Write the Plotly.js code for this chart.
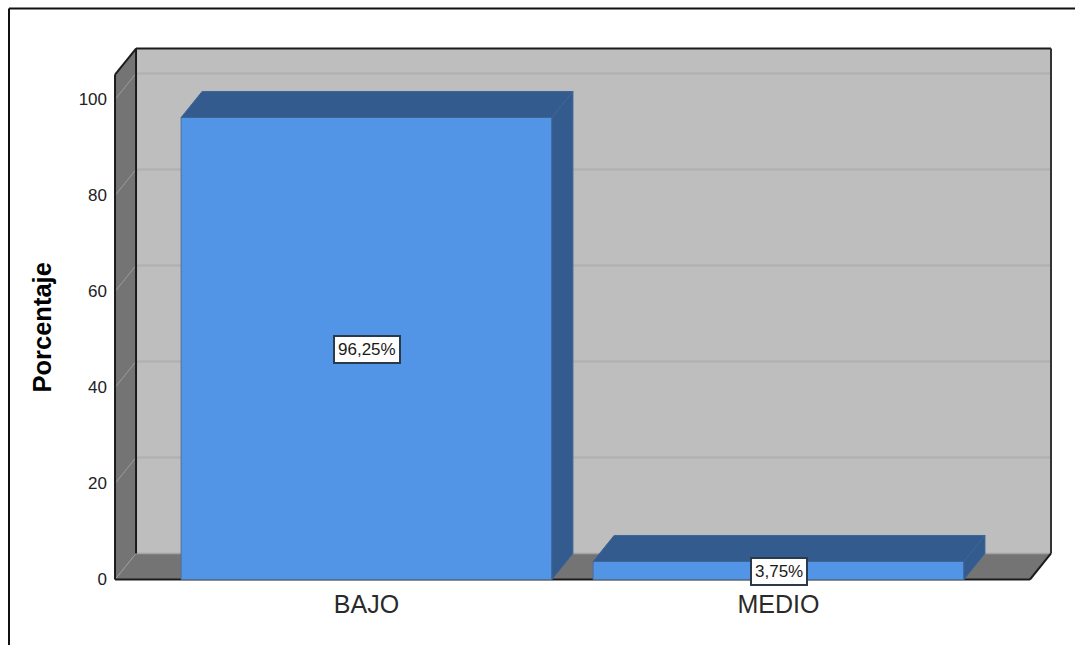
<!DOCTYPE html>
<html>
<head>
<meta charset="utf-8">
<script src="https://cdn.plot.ly/plotly-3.0.1.min.js"></script>
<style>html,body{margin:0;padding:0;background:#fff;overflow:hidden}#chart{width:1075px;height:645px}</style>
</head>
<body>
<div id="chart"></div>
<script>
var categories = ['BAJO', 'MEDIO'];
var categoryPositions = [0, 1];
var percentages = [96.25, 3.75];
var yTicks = [0, 20, 40, 60, 80, 100];
var yTitle = 'Porcentaje';

var barWidth = 0.9;
var depthX = 0.051;
var depthY = 5.42;
var wallLeft = -0.6104;
var wallRight = 1.6104;
var wallTop = 105.2;

var FONT = '"Liberation Sans", Arial, sans-serif';
var FRONT = '#5294e6', DARK = '#335b8e', WALL = '#bebebe', SIDE = '#747474', GRID = '#b2b2b2', EDGE = '#1c1c1c';

function poly(xs, ys, fill, lineColor, lineWidth) {
  var d = 'M' + xs.map(function (x, i) { return x + ',' + ys[i]; }).join('L') + 'Z';
  return {type: 'path', path: d, xref: 'x', yref: 'y', layer: 'below', fillcolor: fill,
          line: {color: lineColor || fill, width: lineWidth || 0}};
}
function seg(x0, y0, x1, y1, color, width) {
  return {type: 'line', xref: 'x', yref: 'y', layer: 'below', x0: x0, y0: y0, x1: x1, y1: y1,
          line: {color: color, width: width}};
}

var shapes = [];
// back wall, left wall, floor
shapes.push(poly([wallLeft + depthX, wallRight + depthX, wallRight + depthX, wallLeft + depthX],
                 [depthY, depthY, wallTop + depthY, wallTop + depthY], WALL));
shapes.push(poly([wallLeft, wallLeft + depthX, wallLeft + depthX, wallLeft],
                 [0, depthY, wallTop + depthY, wallTop], SIDE));
shapes.push(poly([wallLeft, wallRight, wallRight + depthX, wallLeft + depthX],
                 [0, 0, depthY, depthY], SIDE));
// gridlines that wrap the left wall and the back wall
yTicks.forEach(function (v) {
  if (v > 0) shapes.push(seg(wallLeft + depthX, v + depthY, wallRight + depthX, v + depthY, GRID, 2.5));
  shapes.push(seg(wallLeft, v, wallLeft + depthX, v + depthY, '#9c9c9c', 1));
});
// frame edges of the walls
shapes.push(seg(wallLeft + depthX, depthY, wallRight + depthX, depthY, '#a4a4a4', 1.5));
shapes.push(seg(wallLeft, 0, wallLeft, wallTop, EDGE, 2));
shapes.push(seg(wallLeft, wallTop, wallLeft + depthX, wallTop + depthY, EDGE, 2));
shapes.push(seg(wallLeft + depthX, depthY, wallLeft + depthX, wallTop + depthY, EDGE, 2));
shapes.push(seg(wallLeft + depthX, wallTop + depthY, wallRight + depthX, wallTop + depthY, EDGE, 2));
shapes.push(seg(wallRight + depthX, depthY, wallRight + depthX, wallTop + depthY, '#333333', 2));
shapes.push(seg(wallRight, 0, wallRight + depthX, depthY, EDGE, 2));
shapes.push(seg(wallLeft, 0, wallRight, 0, EDGE, 2));

// outer frame of the picture (paper coordinates of the plot area)
var plotL = 110, plotW = 946, plotT = 43, plotH = 539;
function paperX(px) { return (px - plotL) / plotW; }
function paperY(py) { return 1 - (py - plotT) / plotH; }
shapes.push({type: 'line', xref: 'paper', yref: 'paper', layer: 'below',
             x0: paperX(9), x1: paperX(1075), y0: paperY(8.5), y1: paperY(8.5), line: {color: '#111', width: 2}});
shapes.push({type: 'line', xref: 'paper', yref: 'paper', layer: 'below',
             x0: paperX(9), x1: paperX(9), y0: paperY(8.5), y1: paperY(645), line: {color: '#111', width: 2}});

var traces = [{
  type: 'bar', x: categoryPositions, y: percentages, width: barWidth,
  marker: {color: FRONT, line: {color: '#4d7099', width: 1}},
  hoverinfo: 'skip', showlegend: false
}];
categoryPositions.forEach(function (c, i) {
  var l = c - barWidth / 2, r = c + barWidth / 2, v = percentages[i];
  traces.push({type: 'scatter', mode: 'lines', fill: 'toself', fillcolor: DARK,
    x: [l, r, r + depthX, l + depthX, l], y: [v, v, v + depthY, v + depthY, v],
    line: {color: '#3e6596', width: 1}, hoverinfo: 'skip', showlegend: false});
  traces.push({type: 'scatter', mode: 'lines', fill: 'toself', fillcolor: DARK,
    x: [r, r + depthX, r + depthX, r, r], y: [0, depthY, v + depthY, v, 0],
    line: {color: '#3e6596', width: 1}, hoverinfo: 'skip', showlegend: false});
});

var annotations = categoryPositions.map(function (c, i) {
  return {x: c, y: percentages[i] / 2, xref: 'x', yref: 'y', showarrow: false, yshift: -1,
    text: percentages[i].toFixed(2).replace('.', ',') + '%',
    font: {family: FONT, size: 17, color: '#1a1a1a'},
    bgcolor: '#ffffff', bordercolor: '#2b3a4a', borderwidth: 2, borderpad: 3};
});
annotations.push({
  xref: 'paper', yref: 'paper', x: paperX(41), y: paperY(327.5), showarrow: false, textangle: -90,
  xanchor: 'center', yanchor: 'middle',
  text: '<b>' + yTitle + '</b>', font: {family: FONT, size: 25.5, color: '#000'}
});

var layout = {
  width: 1075, height: 645,
  margin: {l: plotL, r: 1075 - plotL - plotW, t: plotT, b: 645 - plotT - plotH, pad: 0},
  paper_bgcolor: '#ffffff', plot_bgcolor: 'rgba(0,0,0,0)',
  showlegend: false,
  xaxis: {
    range: [(plotL - 366.5) / 412, (plotL + plotW - 366.5) / 412],
    tickmode: 'array', tickvals: categoryPositions, ticktext: categories,
    showgrid: false, zeroline: false, showline: false, ticks: '', ticklabelstandoff: 5,
    tickfont: {family: FONT, size: 25, color: '#2a2a2a'}
  },
  yaxis: {
    range: [-2.5 / 4.8, 536.5 / 4.8],
    tickmode: 'array', tickvals: yTicks, ticktext: yTicks.map(String),
    showgrid: false, zeroline: false, showline: false, ticks: '', ticklabelstandoff: 2,
    tickfont: {family: FONT, size: 17, color: '#222'}
  },
  shapes: shapes,
  annotations: annotations
};
Plotly.newPlot('chart', traces, layout, {displayModeBar: false, staticPlot: true});
</script>
</body>
</html>
